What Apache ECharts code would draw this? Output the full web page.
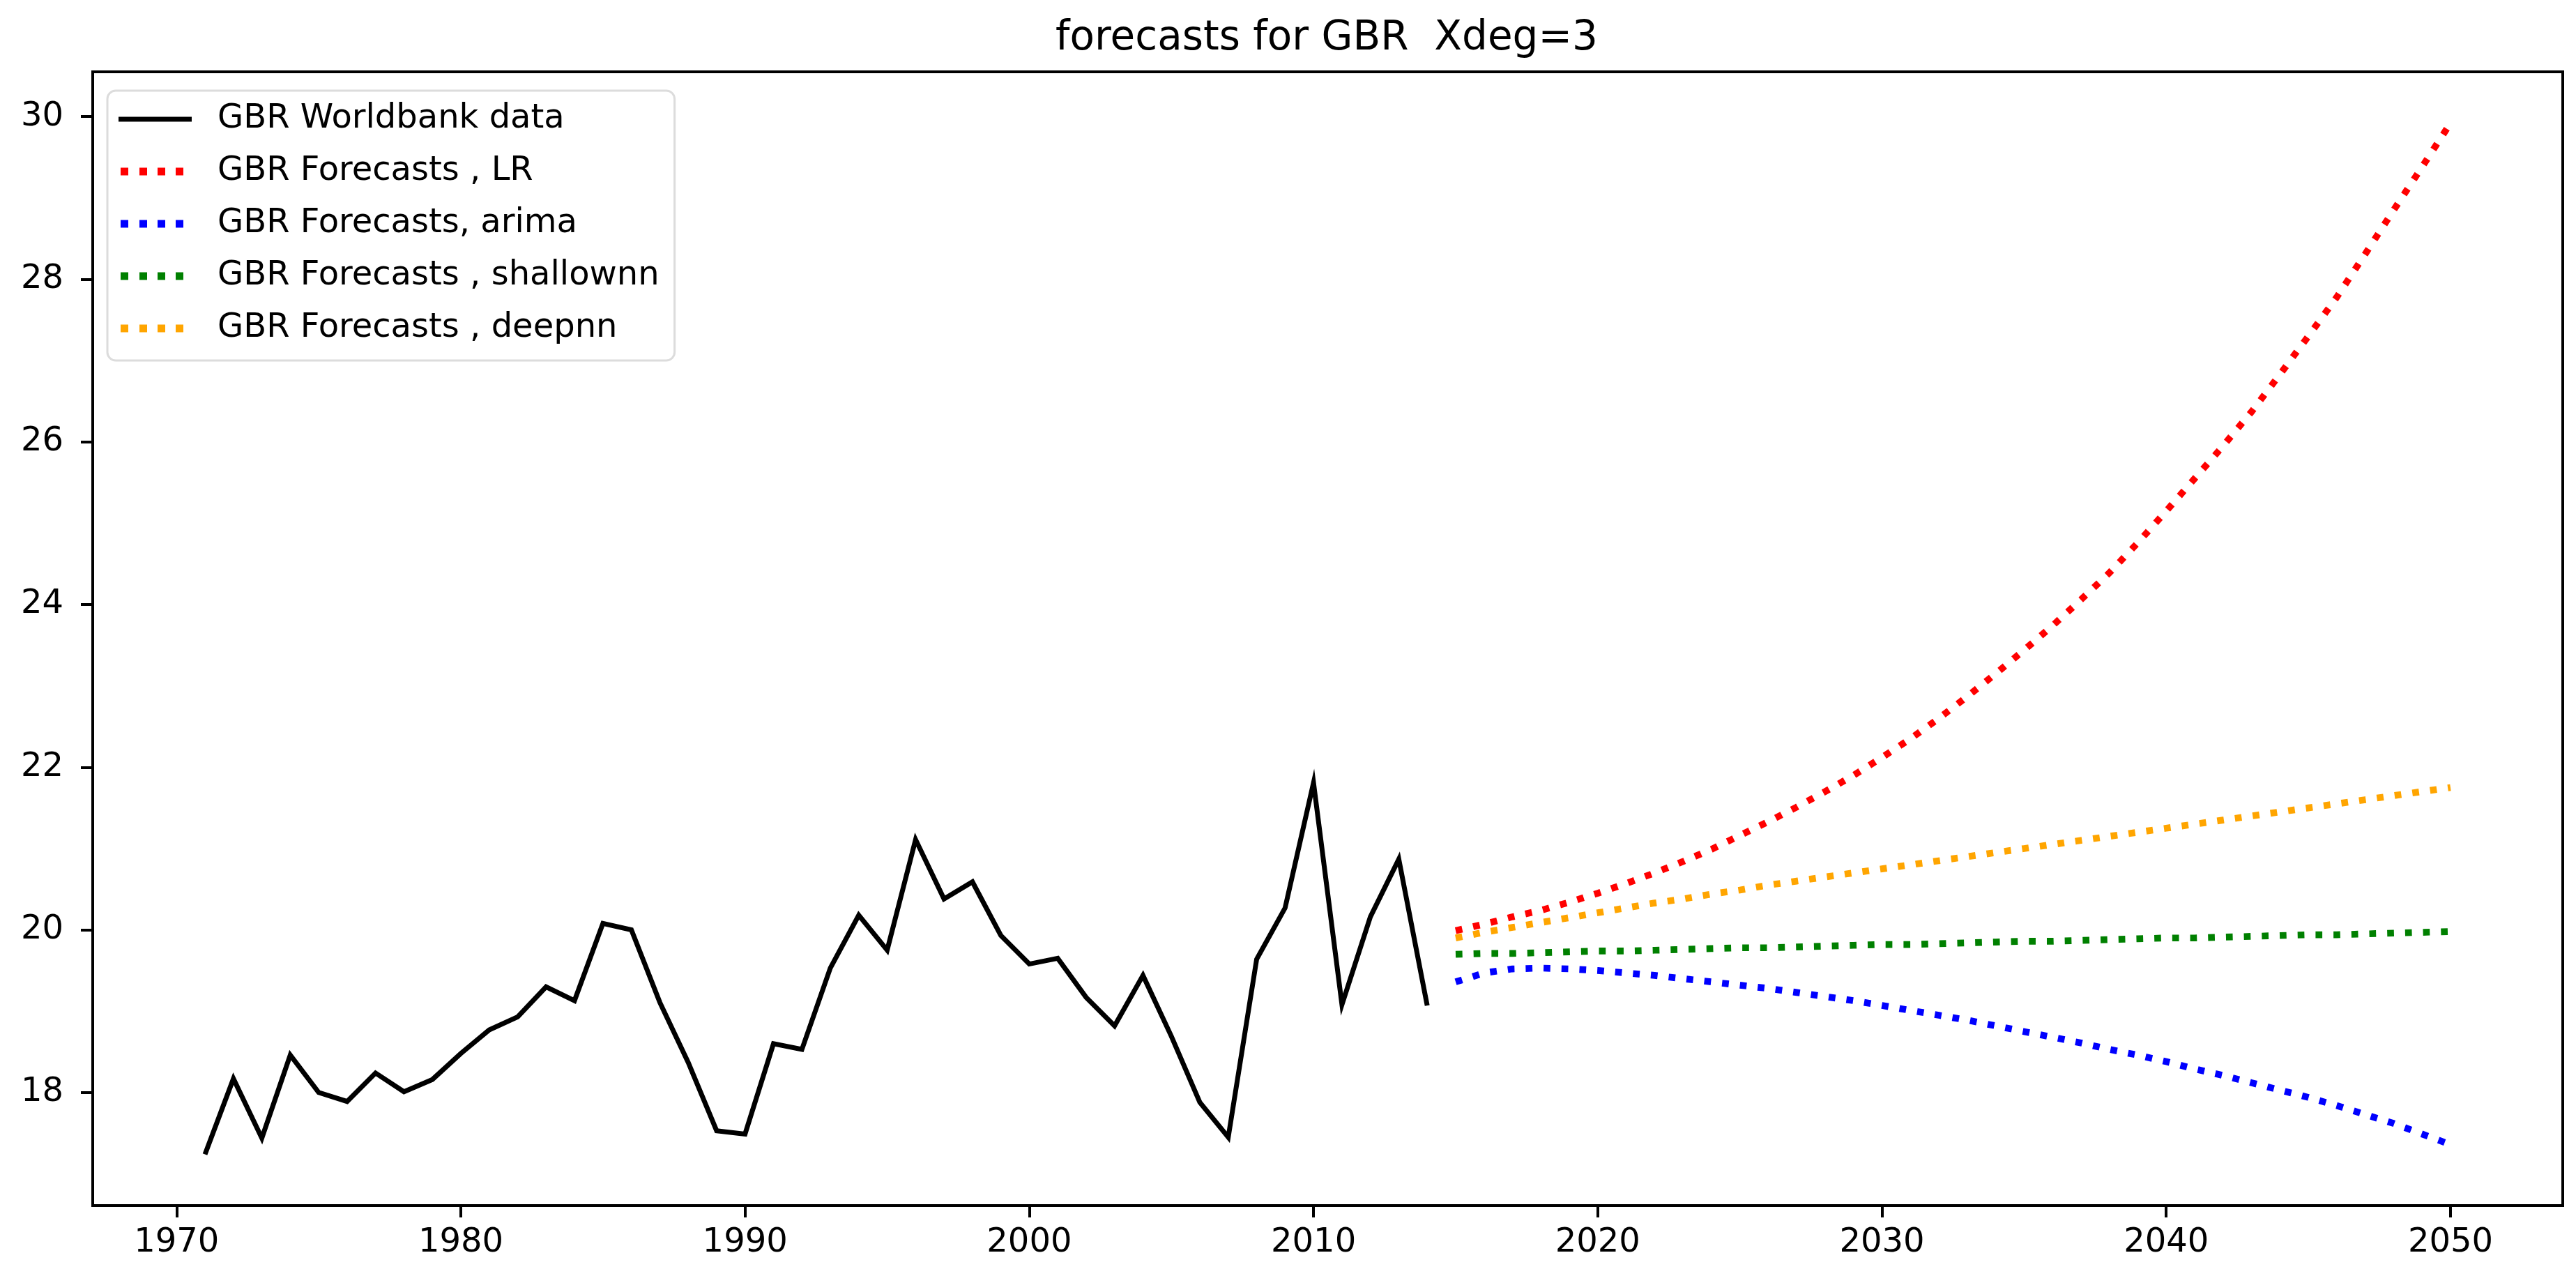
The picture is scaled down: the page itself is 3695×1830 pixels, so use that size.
<!DOCTYPE html>
<html>
<head>
<meta charset="utf-8">
<script src="https://cdn.jsdelivr.net/npm/echarts@6/dist/echarts.min.js"></script>
<style>
  html, body { margin: 0; padding: 0; background: #ffffff; }
  #chart { width: 3695px; height: 1830px; }
</style>
</head>
<body>
<div id="chart"></div>
<script>
// ---- data ----
const histYears = [1971,1972,1973,1974,1975,1976,1977,1978,1979,1980,
  1981,1982,1983,1984,1985,1986,1987,1988,1989,1990,
  1991,1992,1993,1994,1995,1996,1997,1998,1999,2000,
  2001,2002,2003,2004,2005,2006,2007,2008,2009,2010,
  2011,2012,2013,2014];
const worldbank = [17.24,18.17,17.44,18.46,18.00,17.89,18.24,18.01,18.16,18.48,
  18.77,18.93,19.30,19.13,20.08,20.00,19.11,18.37,17.53,17.49,
  18.60,18.53,19.53,20.18,19.75,21.11,20.38,20.59,19.93,19.58,
  19.65,19.17,18.82,19.44,18.69,17.88,17.45,19.64,20.27,21.81,
  19.08,20.16,20.87,19.07];

const fcYears = [2015,2016,2017,2018,2019,2020,2021,2022,2023,2024,
  2025,2026,2027,2028,2029,2030,2031,2032,2033,2034,
  2035,2036,2037,2038,2039,2040,2041,2042,2043,2044,
  2045,2046,2047,2048,2049,2050];
const fcLR = [19.99,20.07,20.16,20.24,20.34,20.45,20.57,20.70,20.84,20.99,
  21.16,21.33,21.51,21.70,21.90,22.12,22.35,22.60,22.87,23.15,
  23.44,23.74,24.06,24.39,24.76,25.15,25.55,25.95,26.37,26.83,
  27.30,27.78,28.31,28.85,29.38,29.92];
const fcArima = [19.36,19.47,19.52,19.53,19.52,19.50,19.47,19.44,19.40,19.36,
  19.32,19.28,19.23,19.18,19.13,19.07,19.01,18.95,18.89,18.82,
  18.75,18.68,18.61,18.53,18.46,18.38,18.29,18.21,18.12,18.03,
  17.94,17.84,17.73,17.62,17.49,17.36];
const fcShallow = [19.70,19.71,19.71,19.72,19.73,19.74,19.74,19.75,19.76,19.77,
  19.78,19.78,19.79,19.80,19.81,19.82,19.82,19.83,19.84,19.85,
  19.86,19.86,19.87,19.88,19.89,19.90,19.90,19.91,19.92,19.93,
  19.94,19.94,19.95,19.96,19.97,19.98];
const fcDeep = [19.90,19.97,20.03,20.09,20.15,20.21,20.27,20.33,20.38,20.44,
  20.49,20.55,20.60,20.65,20.70,20.75,20.80,20.85,20.90,20.95,
  21.00,21.05,21.10,21.15,21.20,21.25,21.30,21.35,21.40,21.45,
  21.50,21.55,21.60,21.65,21.70,21.75];

const xTicks = [1970,1980,1990,2000,2010,2020,2030,2040,2050];
const yTicks = [18,20,22,24,26,28,30];

const seriesNames = ['GBR Worldbank data','GBR Forecasts , LR','GBR Forecasts, arima',
  'GBR Forecasts , shallownn','GBR Forecasts , deepnn'];
const seriesColors = ['#000000','#ff0000','#0000ff','#008000','#ffa500'];

// ---- build chart ----
function pairs(xs, ys) { return xs.map((x, i) => [x, ys[i]]); }
const FONT = 'DejaVu Sans';
const DOT = 9.7;

// legend icons in a 105 x 11 box (zero-area subpaths fix the box extents)
const BOX = 'M0 0 L0 0 Z M105 11 L105 11 Z ';
const ICON_SOLID = 'path://' + BOX + 'M0 2 L105 2 L105 9 L0 9 Z';
const ICON_DOTS = 'path://' + BOX +
  'M3 0 L14 0 L14 11 L3 11 Z M30 0 L41 0 L41 11 L30 11 Z ' +
  'M56 0 L67 0 L67 11 L56 11 Z M82 0 L93 0 L93 11 L82 11 Z';

function dotted(name, color, xs, ys) {
  return {
    name: name, type: 'line', data: pairs(xs, ys), showSymbol: false, symbol: 'none',
    lineStyle: { color: color, width: DOT, type: [DOT, DOT * 1.65], cap: 'butt' },
    itemStyle: { color: color }
  };
}

const chart = echarts.init(document.getElementById('chart'), null, { renderer: 'canvas' });
chart.setOption({
  animation: false,
  backgroundColor: '#ffffff',
  title: {
    text: 'forecasts for GBR  Xdeg=3',
    left: 1898, top: 22, textAlign: 'center',
    textStyle: { fontFamily: FONT, fontSize: 58, fontWeight: 'normal', color: '#000' }
  },
  legend: {
    orient: 'vertical', left: 154, top: 130,
    padding: [17, 22, 22, 16],
    itemWidth: 105, itemHeight: 11, itemGap: 27,
    symbolKeepAspect: false,
    itemStyle: { borderWidth: 0 },
    backgroundColor: 'rgba(255,255,255,0.8)',
    borderColor: '#dcdcdc', borderWidth: 3, borderRadius: 12,
    data: seriesNames.map((n, i) => ({ name: n, icon: i === 0 ? ICON_SOLID : ICON_DOTS })),
    textStyle: { fontFamily: FONT, fontSize: 48, color: '#000', padding: [0, 0, 0, 32] }
  },
  grid: {
    left: 133, right: 19, top: 103, bottom: 101,
    show: true, borderColor: '#000', borderWidth: 4, backgroundColor: 'transparent'
  },
  xAxis: {
    type: 'value', min: 1967.05, max: 2053.95,
    axisLine: { show: false },
    splitLine: { show: false },
    axisTick: { show: true, length: 17, lineStyle: { color: '#000', width: 4 }, customValues: xTicks },
    axisLabel: { customValues: xTicks, margin: 30, fontFamily: FONT, fontSize: 48, color: '#000',
      formatter: v => String(v) }
  },
  yAxis: {
    type: 'value', min: 16.61, max: 30.55,
    axisLine: { show: false },
    splitLine: { show: false },
    axisTick: { show: true, length: 17, lineStyle: { color: '#000', width: 4 }, customValues: yTicks },
    axisLabel: { customValues: yTicks, margin: 42, fontFamily: FONT, fontSize: 48, color: '#000',
      formatter: v => String(v) }
  },
  series: [
    {
      name: seriesNames[0], type: 'line', data: pairs(histYears, worldbank),
      showSymbol: false, symbol: 'none',
      lineStyle: { color: seriesColors[0], width: 7, join: 'miter' },
      itemStyle: { color: seriesColors[0] }
    },
    dotted(seriesNames[1], seriesColors[1], fcYears, fcLR),
    dotted(seriesNames[2], seriesColors[2], fcYears, fcArima),
    dotted(seriesNames[3], seriesColors[3], fcYears, fcShallow),
    dotted(seriesNames[4], seriesColors[4], fcYears, fcDeep)
  ]
});
</script>
</body>
</html>
